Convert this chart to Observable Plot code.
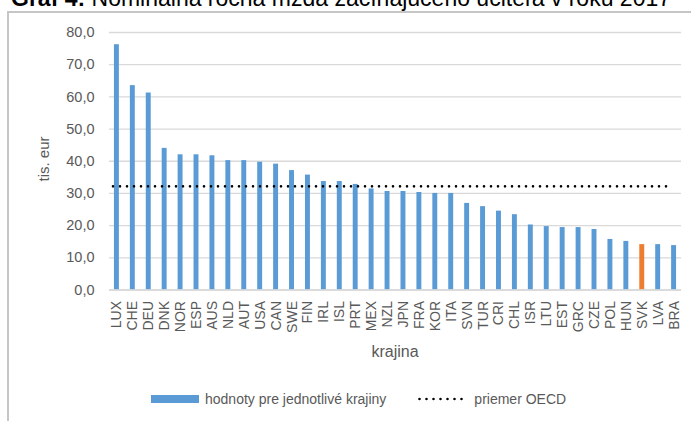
<!DOCTYPE html>
<html><head><meta charset="utf-8">
<script src="https://cdn.jsdelivr.net/npm/d3@7"></script>
<script src="https://cdn.jsdelivr.net/npm/@observablehq/plot@0.6"></script>
<style>
body{margin:0;background:#fff;font-family:"Liberation Sans",Arial,sans-serif;}
#wrap{position:relative;width:691px;height:421px;overflow:hidden;background:#fff}
#title{position:absolute;left:11px;top:-13px;font-size:23px;line-height:23px;white-space:nowrap;color:#000}
#frame{position:absolute;left:7px;top:11px;width:700px;height:420px;border-top:2px solid #c6c6c6;border-left:2px solid #c6c6c6;}
#chart{position:absolute;left:0;top:0}
.lab{position:absolute;color:#595959;white-space:nowrap}
#ylab{left:43px;top:159px;font-size:15px;transform:translate(-50%,-50%) rotate(-90deg)}
#xlab{left:395px;top:352px;font-size:16px;transform:translate(-50%,-50%)}
#legend{position:absolute;left:151px;top:391px;font-size:14px;color:#595959;display:flex;align-items:center;white-space:nowrap}
</style></head>
<body><div id="wrap">
<div id="title"><b>Graf 4:</b> Nominálna ročná mzda začínajúceho učiteľa v roku 2017</div>
<div id="frame"></div>
<div id="chart"></div>
<div class="lab" id="ylab">tis. eur</div>
<div class="lab" id="xlab">krajina</div>
<div id="legend">
<svg width="48" height="10" style="margin-right:6px"><rect x="0" y="1" width="48" height="8" fill="#5B9BD5"/></svg><span>hodnoty pre jednotlivé krajiny</span>
<svg width="50" height="10" style="margin-left:32px;margin-right:6px"><line x1="1.5" x2="49" y1="5" y2="5" stroke="#000" stroke-width="2.6" stroke-linecap="round" stroke-dasharray="0,7"/></svg><span>priemer OECD</span>
</div>
</div>
<script>
const countries = ["LUX","CHE","DEU","DNK","NOR","ESP","AUS","NLD","AUT","USA","CAN","SWE","FIN","IRL","ISL","PRT","MEX","NZL","JPN","FRA","KOR","ITA","SVN","TUR","CRI","CHL","ISR","LTU","EST","GRC","CZE","POL","HUN","SVK","LVA","BRA"];
const values = [76.2,63.5,61.2,44.0,42.0,42.0,41.7,40.2,40.2,39.7,39.1,37.1,35.7,33.7,33.7,32.8,31.4,30.6,30.6,30.3,30.0,30.0,26.9,25.9,24.5,23.4,20.2,19.7,19.4,19.4,18.8,15.7,15.1,14.1,14.1,13.8];
const oecdAverage = 32.2;
const highlight = "SVK";
const yTicks = [0,10,20,30,40,50,60,70,80];
const blue = "#5B9BD5", orange = "#ED7D31";

const data = countries.map((c,i)=>({country:c, value:values[i]}));

const chart = Plot.plot({
  width: 691, height: 380,
  marginTop: 32, marginBottom: 90.5, marginLeft: 109, marginRight: 10,
  style: {fontFamily: '"Liberation Sans", Arial, sans-serif', fontSize: "14px", color: "#595959", background: "transparent"},
  x: {domain: countries, paddingInner: 0.69, paddingOuter: 0.31, label: null},
  y: {domain: [0, 80], label: null},
  color: {type: "identity"},
  marks: [
    Plot.gridY(yTicks, {stroke: "#d9d9d9", strokeOpacity: 1, strokeWidth: 1.3}),
    Plot.barY(data, {x: "country", y: "value", fill: d => d.country === highlight ? orange : blue}),
    Plot.ruleY([0], {stroke: "#d9d9d9", strokeWidth: 1.3}),
    Plot.ruleY([oecdAverage], {stroke: "#000", strokeWidth: 2.6, strokeLinecap: "round", strokeDasharray: "0,7", insetLeft: 4, insetRight: 8}),
    Plot.axisY(yTicks, {tickSize: 0, tickPadding: 15, fontSize: 14.5, tickFormat: d => d.toFixed(1).replace(".", ","), label: null}),
    Plot.axisX({tickSize: 0, tickPadding: 11, tickRotate: -90, fontSize: 14, label: null})
  ]
});
document.getElementById("chart").appendChild(chart);
</script>
</body></html>
